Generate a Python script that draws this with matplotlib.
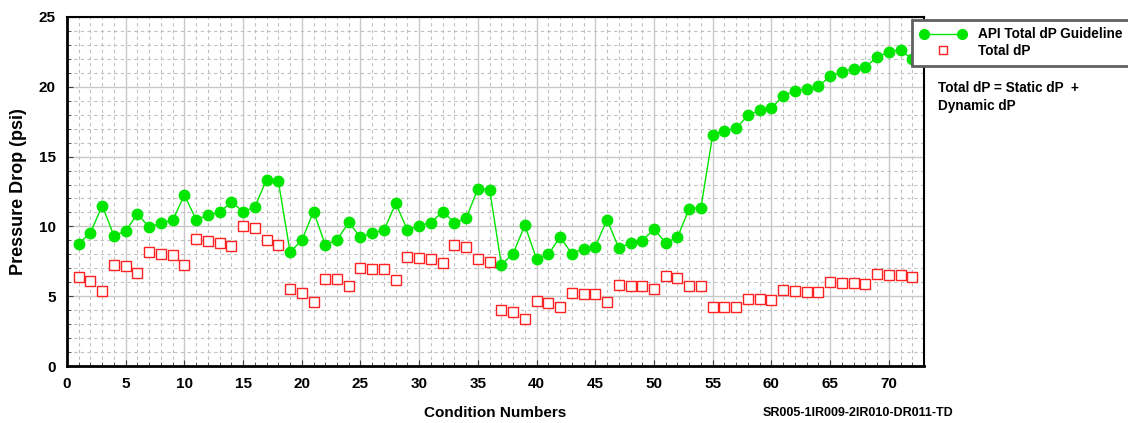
import numpy as np
import matplotlib
matplotlib.use("Agg")
import matplotlib.pyplot as plt
from matplotlib.ticker import MultipleLocator
from matplotlib.lines import Line2D
from matplotlib.legend_handler import HandlerLine2D

plt.rcParams['font.family'] = ['Liberation Sans', 'DejaVu Sans']
plt.rcParams['font.weight'] = 'bold'

# condition numbers 1..72
conditions = list(range(1, 73))

api_guideline = [
    8.76, 9.55, 11.48, 9.33, 9.67, 10.91, 9.93, 10.27, 10.43, 12.25,
    10.48, 10.82, 11.01, 11.75, 11.06, 11.39, 13.35, 13.25, 8.17, 9.00,
    11.06, 8.69, 9.03, 10.29, 9.22, 9.55, 9.72, 11.65, 9.74, 10.05,
    10.27, 11.06, 10.27, 10.58, 12.70, 12.63, 7.26, 8.05, 10.08, 7.66,
    7.99, 9.24, 8.05, 8.41, 8.55, 10.48, 8.45, 8.81, 8.98, 9.79,
    8.83, 9.22, 11.28, 11.35, 16.55, 16.86, 17.02, 17.96, 18.31, 18.46,
    19.36, 19.72, 19.86, 20.03, 20.75, 21.08, 21.27, 21.42, 22.13, 22.49,
    22.66, 21.97,
]

total_dp = [
    6.35, 6.09, 5.35, 7.21, 7.19, 6.66, 8.19, 8.02, 7.98, 7.26,
    9.10, 8.95, 8.83, 8.57, 10.00, 9.86, 9.03, 8.69, 5.54, 5.23,
    4.58, 6.26, 6.21, 5.71, 7.04, 6.95, 6.92, 6.18, 7.83, 7.71,
    7.69, 7.35, 8.64, 8.52, 7.69, 7.43, 4.03, 3.84, 3.39, 4.66,
    4.54, 4.23, 5.25, 5.13, 5.13, 4.58, 5.83, 5.75, 5.71, 5.49,
    6.47, 6.33, 5.75, 5.70, 4.25, 4.22, 4.21, 4.82, 4.78, 4.73,
    5.44, 5.40, 5.33, 5.30, 5.99, 5.97, 5.97, 5.90, 6.61, 6.54,
    6.54, 6.35,
]

green = '#00e600'
red = '#ff2020'

fig = plt.figure(figsize=(11.28, 4.23), dpi=100)
ax = fig.add_axes([67 / 1128, 1 - 366 / 423, 857 / 1128, 349 / 423])

ax.plot(conditions, api_guideline, color=green, lw=1.0, marker='o',
        ms=7.5, mfc=green, mec=green, zorder=3)
ax.plot(conditions, total_dp, ls='none', marker='s', ms=7,
        mfc='white', mec=red, mew=1.0, zorder=3)

ax.set_xlim(0, 73)
ax.set_ylim(0, 25)
ax.xaxis.set_major_locator(MultipleLocator(5))
ax.xaxis.set_minor_locator(MultipleLocator(1))
ax.yaxis.set_major_locator(MultipleLocator(5))
ax.yaxis.set_minor_locator(MultipleLocator(1))
ax.set_xticks(range(0, 75, 5))
ax.set_xticklabels([str(v) for v in range(0, 75, 5)])

ax.grid(which='major', color='#c8c8c8', lw=1.0, ls='-')
ax.grid(which='minor', color='#c0c0c0', lw=0.8, ls=(0, (3, 3)))
ax.set_axisbelow(True)

ax.tick_params(which='both', direction='in', labelsize=11, color='#404040')
ax.tick_params(which='major', length=4, pad=8)
ax.tick_params(which='minor', length=3)
for lab in ax.get_xticklabels() + ax.get_yticklabels():
    lab.set_fontweight('bold')

for side in ['left', 'bottom']:
    ax.spines[side].set_linewidth(2.0)
for side in ['top', 'right']:
    ax.spines[side].set_linewidth(1.5)

ax.set_ylabel('Pressure Drop (psi)', fontsize=13, fontweight='bold')
ax.yaxis.set_label_coords(-0.047, 0.5)

fig.text(495 / 1128, 1 - 413 / 423, 'Condition Numbers', fontsize=11,
         fontweight='bold', ha='center', va='center')
fig.text(763 / 1128, 1 - 413 / 423, 'SR005-1IR009-2IR010-DR011-TD',
         fontsize=9, fontweight='bold', ha='left', va='center')

h_api = Line2D([], [], color=green, lw=1.0, marker='o', ms=7, mfc=green, mec=green)
h_tot = Line2D([], [], ls='none', marker='s', ms=6, mfc='white', mec=red)
leg = ax.legend([h_api, h_tot], ['API Total dP Guideline', 'Total dP'],
                loc='upper left', bbox_to_anchor=(912 / 1128, 1 - 20 / 423),
                bbox_transform=fig.transFigure, frameon=True, fancybox=False,
                framealpha=1, edgecolor='#606060',
                prop={'weight': 'bold', 'size': 9.8},
                handler_map={h_api: HandlerLine2D(numpoints=2),
                             h_tot: HandlerLine2D(numpoints=1)},
                handlelength=3.4, borderpad=0.55, labelspacing=0.2,
                handletextpad=0.9, borderaxespad=0)
leg.get_frame().set_linewidth(2)
leg.set_zorder(5)

fig.text(938 / 1128, 1 - 97 / 423, 'Total dP = Static dP  +\nDynamic dP',
         fontsize=9.8, fontweight='bold', ha='left', va='center', linespacing=1.45)

plt.savefig('out.png', dpi=100)
